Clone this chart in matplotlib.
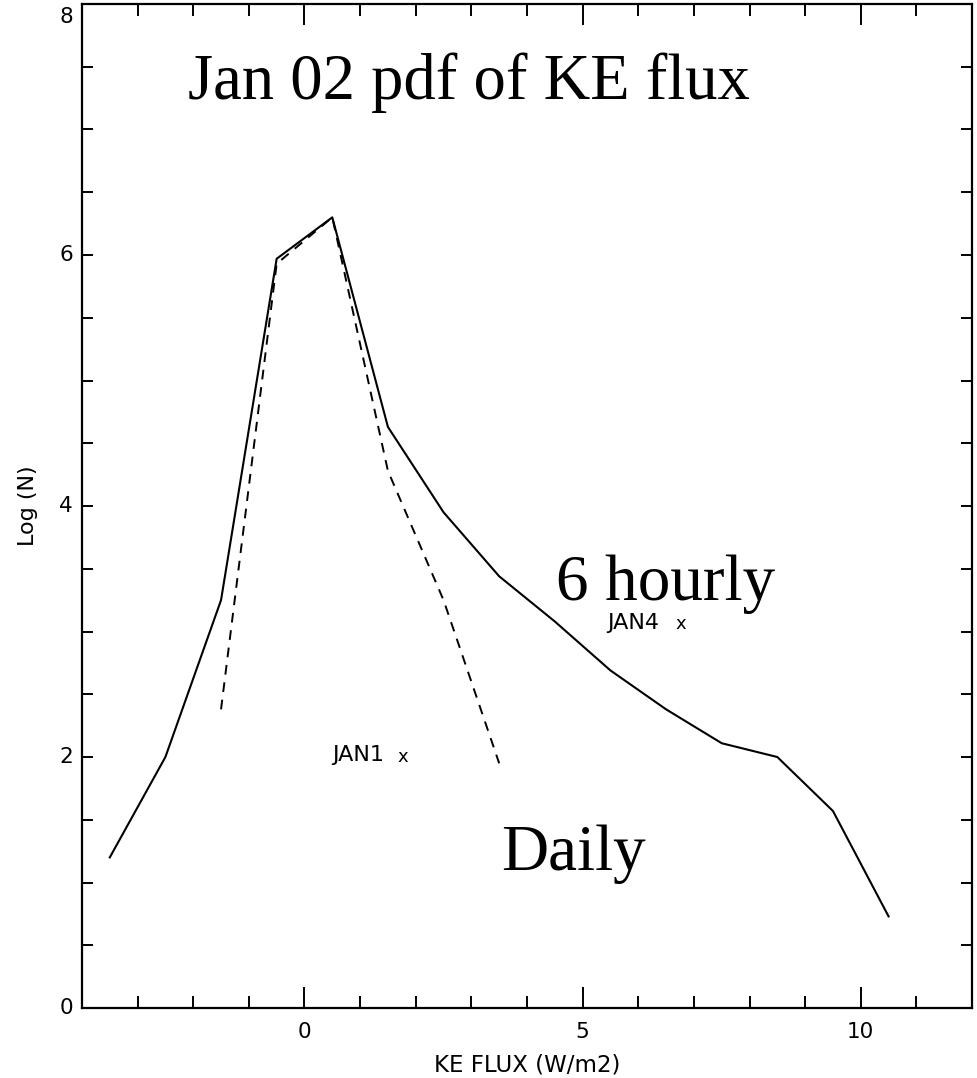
import matplotlib.pyplot as plt
from matplotlib.ticker import MultipleLocator

# KE flux bins (W/m2) and log counts
flux_6h = [-3.5, -2.5, -1.5, -0.5, 0.5, 1.5, 2.5, 3.5, 4.5, 5.5, 6.5, 7.5, 8.5, 9.5, 10.5]
logn_6h = [1.2, 2.0, 3.25, 5.97, 6.3, 4.63, 3.95, 3.44, 3.08, 2.69, 2.38, 2.11, 2.0, 1.57, 0.73]

flux_daily = [-1.5, -0.5, 0.5, 1.5, 2.5, 3.5]
logn_daily = [2.38, 5.93, 6.3, 4.28, 3.25, 1.95]

y_ticks = [0, 2, 4, 6, 8]

fig = plt.figure(figsize=(9.78, 10.78), dpi=100)
ax = fig.add_axes([0.0838, 0.0649, 0.9101, 0.9314])

ax.plot(flux_6h, logn_6h, color='black', lw=1.5)
ax.plot(flux_daily, logn_daily, color='black', lw=1.4, dashes=(5, 4))

ax.set_xlim(-4, 12)
ax.set_ylim(0, 8)
ax.xaxis.set_major_locator(MultipleLocator(5))
ax.xaxis.set_minor_locator(MultipleLocator(1))
ax.set_yticks(y_ticks)
ax.set_yticklabels([])
ax.yaxis.set_minor_locator(MultipleLocator(0.5))

ax.tick_params(which='both', direction='in', top=True, right=True, width=1.4,
               labelsize=15.5)
ax.tick_params(axis='x', which='major', length=15, pad=10)
ax.tick_params(axis='x', which='minor', length=8.5)
ax.tick_params(axis='y', which='both', length=8, pad=7)
for s in ax.spines.values():
    s.set_linewidth(1.6)

# y labels drawn by hand so the top one can sit under the axis edge
for v in y_ticks:
    top = v == y_ticks[-1]
    ax.annotate(str(v), xy=(0, v), xycoords=('axes fraction', 'data'),
                xytext=(-6.5, -2 if top else 0), textcoords='offset points',
                ha='right', va='top' if top else 'center', fontsize=15.5)

ax.set_xlabel("KE FLUX (W/m2)", fontsize=16.5, labelpad=8)
ax.set_ylabel("Log (N)", fontsize=16, labelpad=25)

serif = 'Liberation Serif'
ax.text(-2.09, 7.24, "Jan 02 pdf of KE flux", fontsize=46.5, family=serif,
        ha='left', va='baseline')
ax.text(4.53, 3.25, "6 hourly", fontsize=47, family=serif, ha='left', va='baseline')
ax.text(3.53, 1.1, "Daily", fontsize=47, family=serif, ha='left', va='baseline')

ax.text(5.45, 3.07, "JAN4", fontsize=16, ha='left', va='center')
ax.text(6.67, 3.06, "x", fontsize=13, ha='left', va='center')
ax.text(0.49, 2.02, "JAN1", fontsize=16, ha='left', va='center')
ax.text(1.67, 2.0, "x", fontsize=13, ha='left', va='center')

fig.savefig("out.png", dpi=100)
